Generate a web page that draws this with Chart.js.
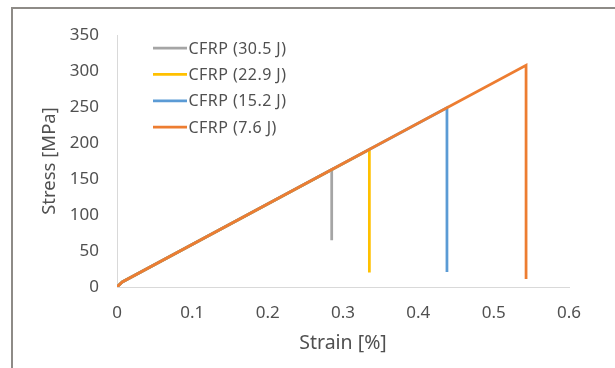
<!DOCTYPE html>
<html>
<head>
<meta charset="utf-8">
<script src="https://cdn.jsdelivr.net/npm/chart.js@4"></script>
<style>
  html, body { margin: 0; padding: 0; background: #fff; }
  #wrap { position: relative; width: 615px; height: 368px; overflow: hidden; }
  #c { position: absolute; left: 0; top: 0; }
  #frame { position: absolute; left: 11px; top: 7px; width: 700px; height: 500px;
           border-left: 2px solid #8e8b87; border-top: 2px solid #8e8b87; box-sizing: border-box; }
</style>
</head>
<body>
<div id="wrap">
  <canvas id="c" width="615" height="368"></canvas>
  <div id="frame"></div>
</div>
<script>
// Series labels (legend order, top to bottom)
const seriesLabels = ['CFRP (30.5 J)', 'CFRP (22.9 J)', 'CFRP (15.2 J)', 'CFRP (7.6 J)'];
const seriesColors = ['#A5A5A5', '#FFC000', '#5B9BD5', '#ED7D31'];

// Strain [%] and Stress [MPa] per series
const strain30 = [0, 0.007, 0.285, 0.285];
const stress30 = [0, 7, 163, 65];
const strain22 = [0, 0.007, 0.335, 0.335];
const stress22 = [0, 7, 191, 20];
const strain15 = [0, 0.007, 0.438, 0.438];
const stress15 = [0, 7, 249, 21];
const strain7 = [0, 0.007, 0.543, 0.543];
const stress7 = [0, 7, 308, 11];

// Axis ticks
const xTicks = [0, 0.1, 0.2, 0.3, 0.4, 0.5, 0.6];
const yTicks = [0, 50, 100, 150, 200, 250, 300, 350];

const toPts = (xs, ys) => xs.map((x, i) => ({ x: x, y: ys[i] }));
const seriesData = [toPts(strain30, stress30), toPts(strain22, stress22), toPts(strain15, stress15), toPts(strain7, stress7)];

// Draw order: later legend entries on top (dataset 0 is drawn last)
const datasets = [];
for (let i = seriesLabels.length - 1; i >= 0; i--) {
  datasets.push({
    label: seriesLabels[i],
    data: seriesData[i],
    borderColor: seriesColors[i],
    backgroundColor: seriesColors[i],
    borderWidth: 2.75,
    showLine: true,
    pointRadius: 0,
    tension: 0,
    fill: false
  });
}

const FONT = "'Noto Sans', 'Open Sans', sans-serif";
const TXT = '#505050';

const legendPlugin = {
  id: 'customLegend',
  afterDraw(chart) {
    const ctx = chart.ctx;
    ctx.save();
    ctx.font = '16px ' + FONT;
    try { ctx.letterSpacing = '0.45px'; } catch (e) {}
    ctx.textBaseline = 'middle';
    ctx.textAlign = 'left';
    const x0 = 153, x1 = 187, yStart = 48, dy = 26.4;
    seriesLabels.forEach((lab, i) => {
      const y = yStart + i * dy;
      ctx.strokeStyle = seriesColors[i];
      ctx.lineWidth = 2.75;
      ctx.beginPath();
      ctx.moveTo(x0, y);
      ctx.lineTo(x1, y);
      ctx.stroke();
      ctx.fillStyle = TXT;
      ctx.fillText(lab, x1 + 1.5, y + 1);
    });
    try { ctx.letterSpacing = '0px'; } catch (e) {}
    ctx.restore();
  }
};

new Chart(document.getElementById('c'), {
  type: 'scatter',
  data: { datasets: datasets },
  plugins: [legendPlugin],
  options: {
    responsive: false,
    animation: false,
    layout: { padding: { top: 35, right: 46, left: 0, bottom: 0 } },
    plugins: { legend: { display: false }, tooltip: { enabled: false } },
    scales: {
      x: {
        type: 'linear',
        min: 0, max: 0.6,
        afterFit: (s) => { s.height = 81; },
        afterBuildTicks: (s) => { s.ticks = xTicks.map(v => ({ value: v })); },
        grid: { display: false, drawTicks: false },
        border: { display: true, color: '#d9d9d9', width: 1 },
        ticks: { color: TXT, font: { family: FONT, size: 17 }, padding: 16, maxRotation: 0,
                 callback: (v) => String(Math.round(v * 10) / 10) },
        title: { display: true, text: 'Strain [%]', color: TXT, font: { family: FONT, size: 19.5 },
                 padding: { top: 0, bottom: 13 } }
      },
      y: {
        type: 'linear',
        min: 0, max: 350,
        afterFit: (s) => { s.width = 117; },
        afterBuildTicks: (s) => { s.ticks = yTicks.map(v => ({ value: v })); },
        grid: { display: false, drawTicks: false },
        border: { display: true, color: '#d9d9d9', width: 1 },
        ticks: { color: TXT, font: { family: FONT, size: 17 }, padding: 18 },
        title: { display: true, text: 'Stress [MPa]', color: TXT, font: { family: FONT, size: 18.5 },
                 padding: { top: 39, bottom: 0 } }
      }
    }
  }
});
</script>
</body>
</html>
